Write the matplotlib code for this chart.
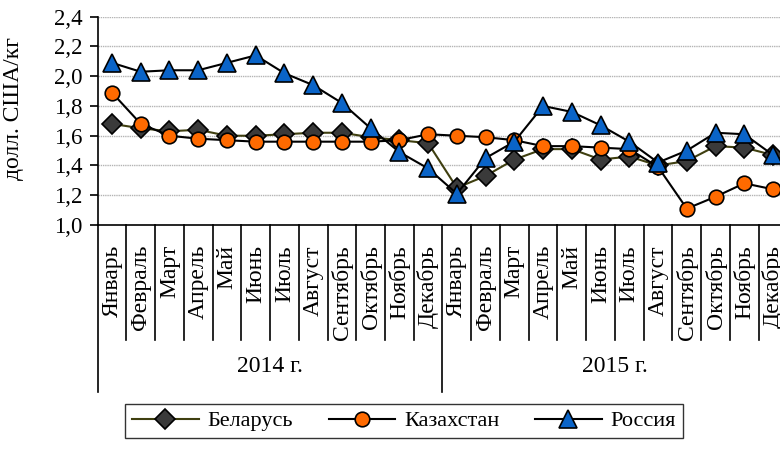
import matplotlib
matplotlib.use('Agg')
import matplotlib.pyplot as plt
import matplotlib.transforms as mtransforms
import numpy as np

plt.rcParams['font.family'] = ['Liberation Serif', 'DejaVu Serif']

# данные
mesyacy = ['Январь', 'Февраль', 'Март', 'Апрель', 'Май', 'Июнь', 'Июль',
           'Август', 'Сентябрь', 'Октябрь', 'Ноябрь', 'Декабрь']
gody = ['2014 г.', '2015 г.']

belarus = [1.68, 1.65, 1.63, 1.64, 1.60, 1.60, 1.61, 1.62, 1.62, 1.59, 1.57, 1.55,
           1.25, 1.33, 1.44, 1.51, 1.51, 1.44, 1.46, 1.40, 1.43, 1.53, 1.52, 1.47]
kazakhstan = [1.89, 1.68, 1.60, 1.58, 1.57, 1.56, 1.56, 1.56, 1.56, 1.56, 1.57, 1.61,
              1.60, 1.59, 1.57, 1.53, 1.53, 1.52, 1.51, 1.39, 1.11, 1.19, 1.28, 1.24]
rossiya = [2.09, 2.03, 2.04, 2.04, 2.09, 2.14, 2.02, 1.94, 1.82, 1.65, 1.49, 1.38,
           1.21, 1.45, 1.56, 1.80, 1.76, 1.67, 1.56, 1.42, 1.50, 1.62, 1.61, 1.47]

W, H = 780, 450
fig = plt.figure(figsize=(W / 100, H / 100), dpi=100)

def fy(py):
    # пиксели сверху -> доли фигуры
    return 1 - py / H

ax = fig.add_axes([97.6 / W, fy(225), 689.8 / W, (225 - 16.7) / H])

n = len(belarus)
x = np.arange(n)

ax.plot(x, belarus, color='#3f3f10', lw=1.5, marker='D', ms=10,
        mfc='#3a3a3a', mec='black', mew=1.2, label='Беларусь', zorder=3)
ax.plot(x, kazakhstan, color='black', lw=1.5, marker='o', ms=10.5,
        mfc='#ff6a00', mec='black', mew=1.2, label='Казахстан', zorder=4)
ax.plot(x, rossiya, color='black', lw=1.5, marker='^', ms=13.5,
        mfc='#0a64c8', mec='black', mew=1.2, label='Россия', zorder=5)

ax.set_xlim(-0.5, n - 0.5)
ax.set_ylim(1.0, 2.4)
ax.set_yticks(np.arange(1.0, 2.41, 0.2))
ax.set_yticklabels([f'{v:.1f}'.replace('.', ',') for v in np.arange(1.0, 2.41, 0.2)],
                   fontsize=16.5)
ax.set_xticks([])
for yv in np.arange(1.2, 2.41, 0.2):
    ax.axhline(yv, color='#b4b4b4', lw=1.0, ls=(0, (1, 0.6)), zorder=1)

for s in ['top', 'right']:
    ax.spines[s].set_visible(False)
ax.spines['left'].set_linewidth(1.2)
ax.spines['bottom'].set_linewidth(1.2)
ax.tick_params(axis='y', direction='out', length=6, width=1.2, pad=5)
ax.set_ylabel('долл. США/кг', fontsize=17)
ax.yaxis.set_label_coords(-0.107, 0.56)

# подписи категорий
tr = mtransforms.blended_transform_factory(ax.transData, fig.transFigure)
for i in range(n):
    ax.text(i, fy(245), mesyacy[i % 12], transform=tr, rotation=90,
            ha='center', va='top', fontsize=17, clip_on=False)
for i in range(n + 1):
    dlinnaya = i % 12 == 0
    ax.plot([i - 0.5, i - 0.5], [fy(225), fy(392 if dlinnaya else 340)],
            transform=tr, color='black', lw=1.2, clip_on=False)
for k, g in enumerate(gody):
    ax.text(k * 12 + 5.5, fy(366), g, transform=tr, ha='center', va='center',
            fontsize=17, clip_on=False)

leg = fig.legend(loc='center', bbox_to_anchor=(404 / W, fy(421)), ncol=3,
                 frameon=True, fancybox=False, edgecolor='black', fontsize=16,
                 handlelength=3.0, columnspacing=1.6, handletextpad=0.4,
                 borderpad=0.3)
leg.get_frame().set_linewidth(1.0)

fig.savefig('out.png', dpi=100)
